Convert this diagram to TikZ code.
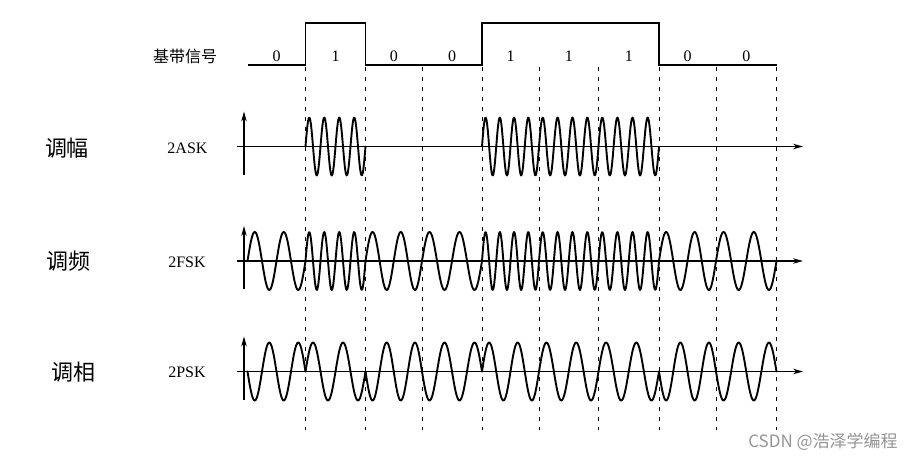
\documentclass[tikz,border=0pt]{standalone}
\usepackage{fontspec}
\setmainfont{Liberation Serif}
\newfontfamily\cjk{Noto Sans CJK SC}
\usetikzlibrary{arrows.meta}
\begin{document}
\begin{tikzpicture}[x=1pt,y=-1pt,
  wave/.style={line width=1.9pt, line join=round, line cap=round},
  axisline/.style={line width=1.1pt, -{Stealth[length=10pt,width=5.5pt]}},
  bitline/.style={line width=0.9pt, dash pattern=on 4pt off 6pt},
  baseline/.style={line width=1.9pt, line join=miter},
  lbl/.style={font=\fontsize{16}{16}\selectfont, inner sep=0pt},
  cnbig/.style={font=\cjk\fontsize{22}{22}\selectfont, inner sep=0pt},
  cnsmall/.style={font=\cjk\fontsize{16}{16}\selectfont, inner sep=0pt},
  wmark/.style={font=\cjk\fontsize{17}{17}\selectfont, text=black!42, inner sep=0pt}]
\useasboundingbox (0,0) rectangle (924,461);
\def\bnd{{247.5,305.5,365.5,422,482,539,598.5,659,716,776.5}}
\def\bits{{0,1,0,0,1,1,1,0,0}}
% baseband
\draw[baseline] (247.5,65) -- (305.5,65) -- (305.5,23) -- (365.5,23) -- (365.5,65)
  -- (482,65) -- (482,23) -- (659,23) -- (659,65) -- (776.5,65);
% dashed bit boundaries and bit labels
\foreach \i in {0,...,8} {
  \pgfmathsetmacro\xa{\bnd[\i]}
  \pgfmathsetmacro\xb{\bnd[\i+1]}
  \pgfmathtruncatemacro\b{\bits[\i]}
  \pgfmathsetmacro\xm{(\xa+\xb)/2}
  \node[lbl] (bit\i) at (\xm,56) {\b};
  \coordinate (dtop\i) at (\xb,67);
  \coordinate (dbot\i) at (\xb,430);
  \draw[bitline] (dtop\i) -- (dbot\i);
}
% axes
\foreach \n/\y in {ask/146.5, fsk/261, psk/371.5} {
  \coordinate (\n L) at (237,\y);
  \coordinate (\n R) at (803,\y);
  \coordinate (\n B) at (244,\y+28);
  \coordinate (\n T) at (244,\y-35);
  \draw[axisline] (\n L) -- (\n R);
  \draw[axisline] (\n B) -- (\n T);
}
% waves
\foreach \i in {0,...,8} {
  \pgfmathsetmacro\xa{\bnd[\i]}
  \pgfmathsetmacro\xb{\bnd[\i+1]}
  \pgfmathsetmacro\w{\xb-\xa}
  \pgfmathtruncatemacro\b{\bits[\i]}
  \pgfmathsetmacro\nf{360*(2+2*\b)}
  \pgfmathsetmacro\sg{2*\b-1}
  % 2ASK
  \ifnum\b=1
    \draw[wave] plot[domain=\xa:\xb, samples=90] (\x,{146.5-29*sin(1440*((\x-\xa)/\w))});
  \fi
  % 2FSK
  \draw[wave] plot[domain=\xa:\xb, samples=90] (\x,{261-29*sin(\nf*((\x-\xa)/\w))});
  % 2PSK
  \draw[wave] plot[domain=\xa:\xb, samples=70] (\x,{371.5-\sg*29*sin(720*((\x-\xa)/\w))});
}
% labels
\node[cnsmall] (bb) at (185,56) {基带信号};
\node[cnbig] (am) at (67,148) {调幅};
\node[cnbig] (fm) at (68,261) {调频};
\node[cnbig] (pm) at (73,372) {调相};
\node[lbl] (askl) at (187.5,148) {2ASK};
\node[lbl] (fskl) at (187,262) {2FSK};
\node[lbl] (pskl) at (187,372) {2PSK};
\node[wmark] (wm) at (823,442) {CSDN @浩泽学编程};
\end{tikzpicture}
\end{document}
